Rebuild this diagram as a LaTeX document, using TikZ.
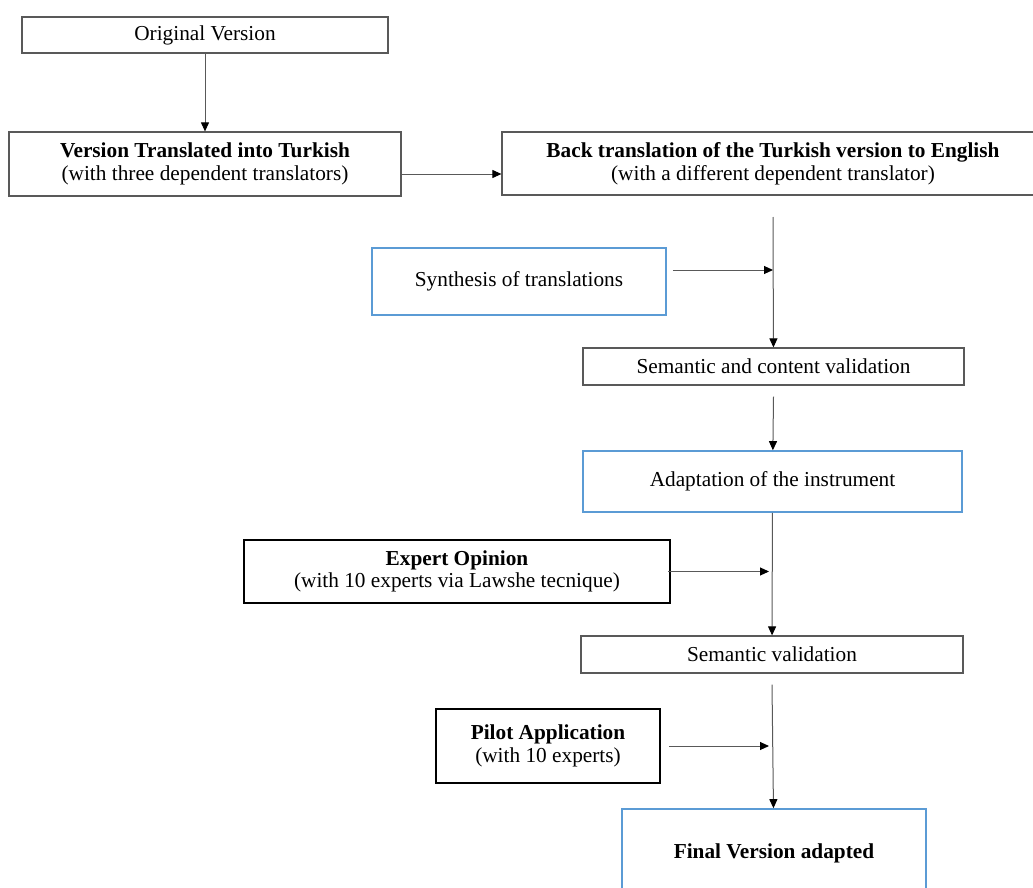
\documentclass[tikz,border=0pt]{standalone}
\usepackage{fontspec}
\setmainfont{Liberation Serif}
\usetikzlibrary{arrows.meta,positioning}
\definecolor{boxblue}{HTML}{5B9BD5}
\definecolor{boxgray}{HTML}{595959}

\begin{document}
\begin{tikzpicture}[x=0.5pt,y=-0.5pt,
    every node/.style={inner sep=2pt,align=center,
      font=\fontsize{10.65}{11.3}\selectfont},
    greybox/.style={draw=boxgray,line width=0.6pt},
    bluebox/.style={draw=boxblue,line width=0.8pt},
    blackbox/.style={draw=black,line width=1pt},
    flow/.style={draw=black!65,line width=0.5pt,->},
    >={Triangle[width=4pt,length=4.5pt,color=black]}]
  \useasboundingbox (0,0) rectangle (1033,888);
  % main column
  \node[greybox,minimum width=183pt,minimum height=18pt] (orig) at (205,35) {Original Version};
  \node[greybox,minimum width=196pt,minimum height=32pt] (turk) at (205,164)
    {\textbf{Version Translated into Turkish}\\(with three dependent translators)};
  \node[greybox,minimum width=271pt,minimum height=31.5pt] (back) at (773,163.5)
    {\textbf{Back translation of the Turkish version to English}\\(with a different dependent translator)};
  \node[bluebox,minimum width=147pt,minimum height=33.5pt] (synth) at (519,281.5) {Synthesis of translations};
  \node[greybox,minimum width=190.5pt,minimum height=18.5pt] (semc) at (773.5,366.5) {Semantic and content validation};
  \node[bluebox,minimum width=189.5pt,minimum height=30.5pt] (adapt) at (772.5,481.5) {Adaptation of the instrument};
  \node[blackbox,minimum width=213pt,minimum height=31.5pt] (expert) at (457,571.5)
    {\textbf{Expert Opinion}\\(with 10 experts via Lawshe tecnique)};
  \node[greybox,minimum width=191pt,minimum height=18.5pt] (semv) at (772,654.5) {Semantic validation};
  \node[blackbox,minimum width=112pt,minimum height=37pt] (pilot) at (548,746)
    {\textbf{Pilot Application}\\(with 10 experts)};
  \node[bluebox,minimum width=152pt,minimum height=44pt] (final) at (774,853) {\textbf{Final Version adapted}};
  % free ends on the trunk
  \coordinate (trunk) at (773,217);
  \coordinate (s1) at (773,270);
  \coordinate (e1) at (769,571.5);
  \coordinate (p1) at (769,746);
  % connectors
  \draw[flow](orig)--(turk);
  \draw[flow]([yshift=-5pt]turk.east)--([yshift=-5.25pt]back.west);
  \draw[flow](trunk)--(semc);
  \draw[flow]([xshift=3pt,yshift=5.75pt]synth.east)--(s1);
  \draw[flow]([yshift=-5.5pt]semc.south)--(adapt);
  \draw[flow](adapt)--(semv);
  \draw[flow]([xshift=-1.5pt]expert.east)--(e1);
  \draw[flow]([yshift=-5.5pt]semv.south)--(final);
  \draw[flow]([xshift=4pt]pilot.east)--(p1);
\end{tikzpicture}
\end{document}
